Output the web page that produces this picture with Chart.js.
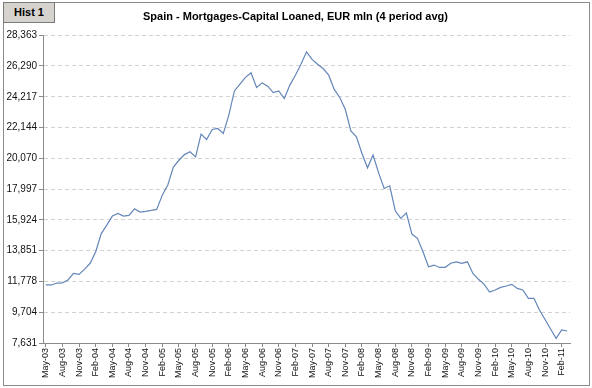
<!DOCTYPE html>
<html>
<head>
<meta charset="utf-8">
<script src="https://cdn.jsdelivr.net/npm/chart.js@4/dist/chart.umd.min.js"></script>
<style>
  body { margin: 0; background: #fff; }
  #wrap { position: relative; width: 592px; height: 388px; }
  #frame { position: absolute; left: 3px; top: 2px; width: 587px; height: 384px; box-sizing: border-box; border: 1px solid #8a8a8a; }
  #tab { position: absolute; left: 3px; top: 2px; width: 52px; height: 21px; box-sizing: border-box; background: #d6d3ce; border: 1px solid #7a7a7a;
         font: bold 11px "Liberation Sans", Arial, sans-serif; text-align: center; line-height: 19px; color: #000; }
  canvas { position: absolute; left: 0; top: 0; }
</style>
</head>
<body>
<div id="wrap">
  <div id="frame"></div>
  <canvas id="myChart" width="592" height="388"></canvas>
  <div id="tab">Hist 1</div>
</div>
<script>
// monthly, May-03 .. Mar-11
var months = [
  'May-03','Jun-03','Jul-03','Aug-03','Sep-03','Oct-03','Nov-03','Dec-03',
  'Jan-04','Feb-04','Mar-04','Apr-04','May-04','Jun-04','Jul-04','Aug-04','Sep-04','Oct-04','Nov-04','Dec-04',
  'Jan-05','Feb-05','Mar-05','Apr-05','May-05','Jun-05','Jul-05','Aug-05','Sep-05','Oct-05','Nov-05','Dec-05',
  'Jan-06','Feb-06','Mar-06','Apr-06','May-06','Jun-06','Jul-06','Aug-06','Sep-06','Oct-06','Nov-06','Dec-06',
  'Jan-07','Feb-07','Mar-07','Apr-07','May-07','Jun-07','Jul-07','Aug-07','Sep-07','Oct-07','Nov-07','Dec-07',
  'Jan-08','Feb-08','Mar-08','Apr-08','May-08','Jun-08','Jul-08','Aug-08','Sep-08','Oct-08','Nov-08','Dec-08',
  'Jan-09','Feb-09','Mar-09','Apr-09','May-09','Jun-09','Jul-09','Aug-09','Sep-09','Oct-09','Nov-09','Dec-09',
  'Jan-10','Feb-10','Mar-10','Apr-10','May-10','Jun-10','Jul-10','Aug-10','Sep-10','Oct-10','Nov-10','Dec-10',
  'Jan-11','Feb-11','Mar-11'
];

var capitalLoaned = [
  11540, 11540, 11670, 11680, 11880, 12320, 12250, 12610,
  13000, 13780, 15000, 15570, 16180, 16360, 16180, 16230, 16670, 16450, 16500, 16560,
  16630, 17590, 18270, 19480, 19940, 20320, 20510, 20170, 21700, 21340, 22010, 22080,
  21750, 22980, 24610, 25070, 25520, 25830, 24840, 25150, 24930, 24500, 24610, 24100,
  25000, 25670, 26410, 27240, 26730, 26410, 26120, 25670, 24710, 24170, 23360, 21920,
  21520, 20400, 19430, 20290, 19090, 18040, 18220, 16540, 16030, 16400, 14970, 14680,
  13780, 12770, 12880, 12720, 12730, 13000, 13100, 13000, 13100, 12320, 11920, 11600,
  11060, 11200, 11380, 11470, 11580, 11310, 11200, 10640, 10640, 9850, 9210, 8570,
  7950, 8510, 8440
];

var yTickValues = [7631, 9704, 11778, 13851, 15924, 17997, 20070, 22144, 24217, 26290, 28363];
var yTickLabels = ['7,631', '9,704', '11,778', '13,851', '15,924', '17,997', '20,070', '22,144', '24,217', '26,290', '28,363'];

var ctx = document.getElementById('myChart');
var myChart = new Chart(ctx, {
    type: 'line',
    data: {
        labels: months,
        datasets: [{
            label: 'Capital Loaned',
            data: capitalLoaned,
            borderColor: '#6386b8',
            borderWidth: 1.2,
            pointRadius: 0,
            tension: 0,
            fill: false
        }]
    },
    options: {
        responsive: false,
        animation: false,
        layout: { padding: { left: 3, right: 4, top: 0, bottom: 3 } },
        plugins: {
            legend: { display: false },
            tooltip: { enabled: false },
            title: {
                display: true,
                text: 'Spain - Mortgages-Capital Loaned, EUR mln (4 period avg)',
                color: '#000',
                font: { family: '"Liberation Sans", Arial, sans-serif', size: 11, weight: 'bold' },
                padding: { top: 10, bottom: 12 }
            }
        },
        scales: {
            x: {
                offset: true,
                afterBuildTicks: function (scale) {
                    scale.ticks = scale.ticks.filter(function (t, i) { return i % 3 === 0; });
                },
                afterFit: function (scale) { scale.height = 42; },
                ticks: {
                    autoSkip: false,
                    minRotation: 90,
                    maxRotation: 90,
                    padding: 1,
                    color: '#111',
                    font: { family: '"Liberation Sans", Arial, sans-serif', size: 9 }
                },
                grid: { drawOnChartArea: false, drawTicks: true, tickLength: 4, tickColor: '#8a8a8a', offset: false },
                border: { color: '#8a8a8a', width: 1 }
            },
            y: {
                min: 7631,
                max: 28363,
                afterBuildTicks: function (scale) {
                    scale.ticks = yTickValues.map(function (v) { return { value: v }; });
                },
                afterFit: function (scale) { scale.width = 40; },
                ticks: {
                    padding: 2,
                    color: '#111',
                    font: { family: '"Liberation Sans", Arial, sans-serif', size: 10 },
                    callback: function (value, index) { return yTickLabels[index]; }
                },
                grid: { color: '#d2d2d2', lineWidth: 1, tickLength: 4, tickColor: '#8a8a8a' },
                border: { color: '#8a8a8a', width: 1, dash: [4, 3] }
            },
            // empty spacer on the right so the plot ends where the reference does
            spacer: {
                type: 'linear',
                position: 'right',
                afterFit: function (scale) { scale.width = 18; },
                ticks: { display: false },
                grid: { display: false, drawTicks: false },
                border: { display: false }
            }
        }
    }
});
</script>
</body>
</html>
